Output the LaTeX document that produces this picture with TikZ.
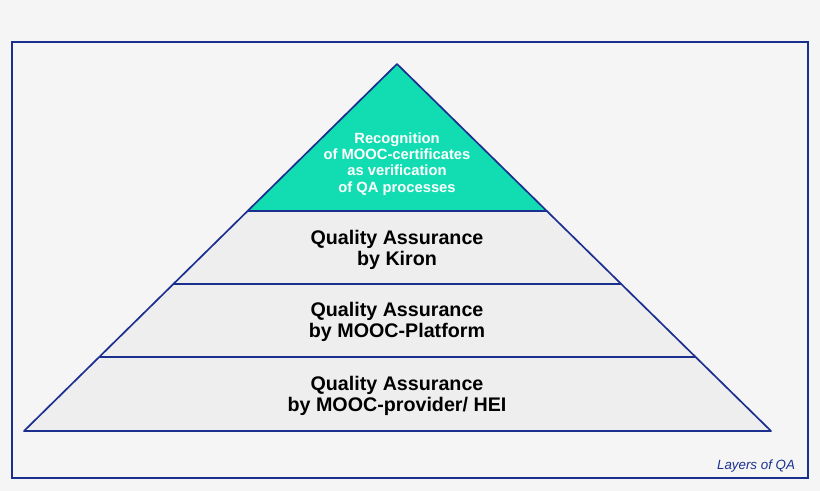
\documentclass[tikz,border=0pt]{standalone}
\usepackage{fontspec}
\setmainfont{Liberation Sans}
\definecolor{qablue}{HTML}{1B2F8F}
\definecolor{qateal}{HTML}{12DDB2}
\definecolor{qagray}{HTML}{EEEEEF}
\definecolor{qabg}{HTML}{F5F5F6}
\begin{document}
\begin{tikzpicture}[x=0.025cm, y=-0.025cm]
        \fill[qabg] (0, 0) rectangle (820, 491);
        \draw[qablue, line width=1pt] (12, 42) rectangle (808, 478);
        \coordinate (top) at (397, 64);
        \coordinate (bl) at (24, 431);
        \coordinate (br) at (771, 431);
        \fill[qagray] (bl)--(top)--(br)--cycle;
        \fill[qateal] (top)--(247.6, 211)--(546.8, 211)--cycle;
        \draw[qablue, line width=1pt] (247.6, 211)--(546.8, 211);
        \draw[qablue, line width=1pt] (173.4, 284)--(621.2, 284);
        \draw[qablue, line width=1pt] (99.2, 357)--(695.6, 357);
        \draw[qablue, line width=1.2pt, line join=round] (bl)--(top)--(br)--cycle;
        \node[align=center, text=white, font=\bfseries\fontsize{10.5}{11.5}\selectfont] (recog) at (397, 164) {Recognition\\of MOOC-certificates\\as verification\\of QA processes};
        \node[align=center, font=\bfseries\fontsize{14}{15.5}\selectfont] (kiron) at (397, 250) {Quality Assurance\\by Kiron};
        \node[align=center, font=\bfseries\fontsize{14}{15.5}\selectfont] (mooc) at (397, 322) {Quality Assurance\\by MOOC-Platform};
        \node[align=center, font=\bfseries\fontsize{14}{15.5}\selectfont] (hei) at (397, 396) {Quality Assurance\\by MOOC-provider/ HEI};
        \node[below left, text=qablue, font=\itshape\fontsize{9.5}{11}\selectfont] (layers) at (800, 455) {Layers of QA};
\end{tikzpicture}
\end{document}
